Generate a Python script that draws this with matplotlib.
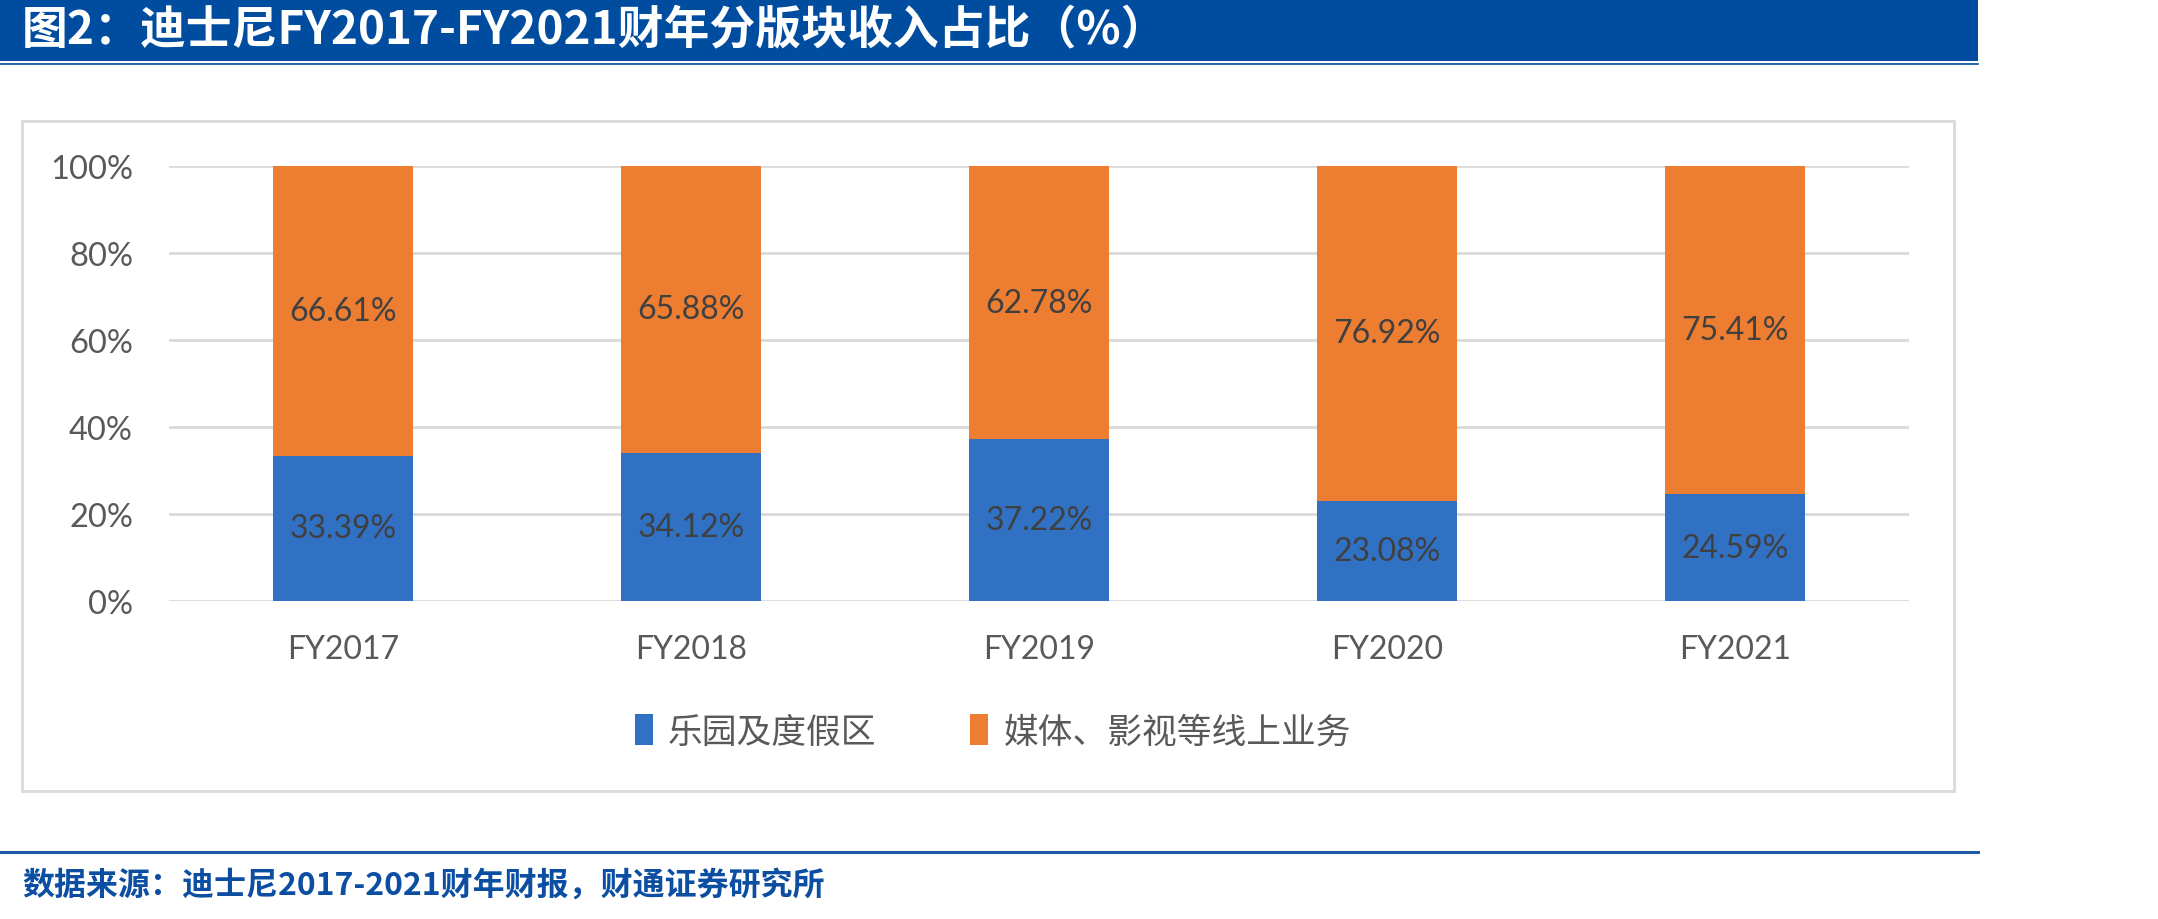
import matplotlib
matplotlib.use("Agg")
import matplotlib.pyplot as plt
from matplotlib.patches import Rectangle, Patch
from matplotlib.lines import Line2D
import numpy as np

plt.rcParams['font.family'] = ['Lato', 'Noto Sans CJK SC', 'DejaVu Sans']

# ---- data ----
categories = ["FY2017", "FY2018", "FY2019", "FY2020", "FY2021"]
parks = [33.39, 34.12, 37.22, 23.08, 24.59]
media = [66.61, 65.88, 62.78, 76.92, 75.41]
series_names = ["乐园及度假区", "媒体、影视等线上业务"]
yticks = [0, 20, 40, 60, 80, 100]
title = "图2：迪士尼FY2017-FY2021财年分版块收入占比（%）"
source = "数据来源：迪士尼2017-2021财年财报，财通证券研究所"

W, H = 2158, 920
fig = plt.figure(figsize=(W / 100, H / 100), dpi=100)
fig.patch.set_facecolor("white")

def fx(px):
    return px / W

def fy(py):
    return 1 - py / H

BLUE = "#3171C4"
ORANGE = "#ED7D31"
NAVY = "#004DA0"

# banner
fig.patches.append(Rectangle((0, fy(62)), fx(1978), 62 / H, transform=fig.transFigure,
                             facecolor=NAVY, edgecolor="none", zorder=-2))
fig.lines.append(Line2D([0, fx(1978)], [fy(65), fy(65)], transform=fig.transFigure,
                        color=NAVY, linewidth=1.2))
fig.text(fx(22), fy(31), title, color="white", fontsize=33, fontweight="bold",
         family=["Noto Sans CJK SC"], va="center", ha="left")

# chart frame
fig.patches.append(Rectangle((fx(22), fy(792)), fx(1954 - 22), (792 - 122) / H,
                             transform=fig.transFigure, facecolor="none",
                             edgecolor="#D9D9D9", linewidth=2, zorder=-2))

# bottom line & source
fig.lines.append(Line2D([0, fx(1978)], [fy(853), fy(853)], transform=fig.transFigure,
                        color="#1D5BA8", linewidth=2.2))
fig.text(fx(22), fy(886), source, color="#0B4EA2", fontsize=23, fontweight="bold",
         family=["Noto Sans CJK SC"], va="center", ha="left")

# axes
ax = fig.add_axes([fx(169), fy(602), fx(1909 - 169), (602 - 167) / H])
ax.set_facecolor("none")
x = np.arange(len(categories))
bw = 0.405
ax.bar(x, parks, bw, color=BLUE, label=series_names[0], zorder=3)
ax.bar(x, media, bw, bottom=parks, color=ORANGE, label=series_names[1], zorder=3)

for i in range(len(categories)):
    ax.text(x[i], parks[i] / 2, f"{parks[i]:.2f}%", ha="center", va="center",
            fontsize=23, color="#404040", zorder=4)
    ax.text(x[i], parks[i] + media[i] / 2, f"{media[i]:.2f}%", ha="center", va="center",
            fontsize=23, color="#404040", zorder=4)

ax.set_xlim(-0.5, len(categories) - 0.5)
ax.set_ylim(0, 100)
ax.set_yticks(yticks)
ax.set_yticklabels([f"{v}%" for v in yticks])
ax.set_xticks(x)
ax.set_xticklabels(categories)
ax.tick_params(axis="y", length=0, pad=26, labelsize=23.5, labelcolor="#595959")
ax.tick_params(axis="x", length=0, pad=24, labelsize=23, labelcolor="#595959")
ax.grid(axis="y", color="#D9D9D9", linewidth=2, zorder=0)
ax.set_axisbelow(True)
for s in ax.spines.values():
    s.set_visible(False)

handles = [Patch(facecolor=BLUE), Patch(facecolor=ORANGE)]
leg = fig.legend(handles, series_names, loc="center", bbox_to_anchor=(fx(993), fy(733)),
                 ncol=2, frameon=False, handlelength=0.5, handleheight=1.0,
                 handletextpad=0.45, columnspacing=2.7,
                 prop={"family": ["Noto Sans CJK SC"], "size": 25})
for t in leg.get_texts():
    t.set_color("#595959")

fig.savefig("out.png", dpi=100, facecolor="white")
